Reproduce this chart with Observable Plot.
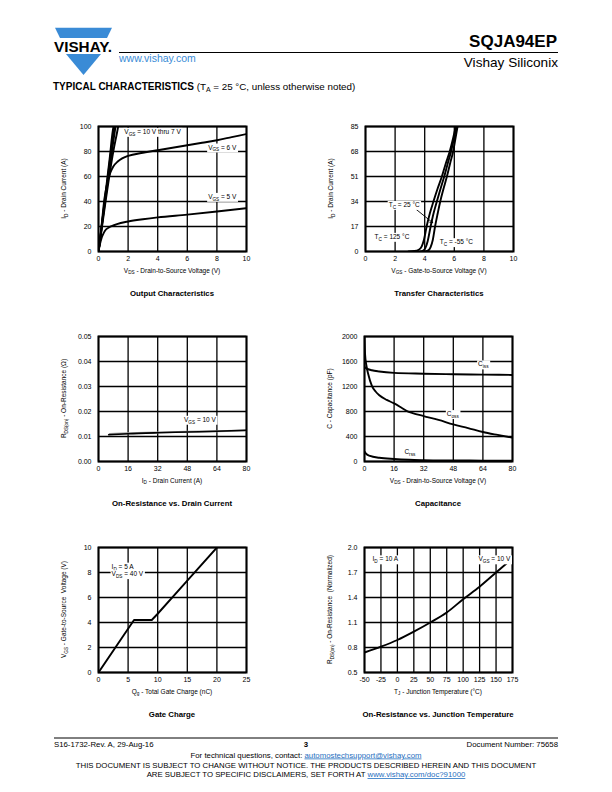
<!DOCTYPE html>
<html><head><meta charset="utf-8">
<script src="https://cdn.jsdelivr.net/npm/d3@7"></script>
<script src="https://cdn.jsdelivr.net/npm/@observablehq/plot@0.6"></script>
<style>
body{margin:0;background:#fff;}
#page{position:relative;width:612px;height:792px;overflow:hidden;font-family:"Liberation Sans",Arial,sans-serif;}
#page svg{position:absolute;}
</style></head><body><div id="page"></div>
<script>
// ---------- DATA ----------
// Output characteristics: ID (A) vs VDS (V)
const outVgs10 = [[0,0],[0.1,9],[0.25,24],[0.5,49],[0.75,74],[1.0,99],[1.02,100]];
const outVgs9  = [[0,0],[0.1,9],[0.25,23.5],[0.5,47],[0.75,71],[1.0,94],[1.07,100]];
const outVgs8  = [[0,0],[0.1,8.5],[0.25,22.5],[0.5,45],[0.75,67],[1.0,88],[1.15,100]];
const outVgs7  = [[0,0],[0.1,8],[0.25,21],[0.5,42],[0.75,62],[1.0,80],[1.25,95],[1.33,100]];
const outVgs6  = [[0,0],[0.2,20],[0.4,42],[0.6,55],[0.8,63],[1.0,68],[1.3,72],[1.6,74.5],[2,76.5],[3,79],[4,81],[5,83],[6,85],[7,87],[8,89],[9,91.5],[10,94]];
const outVgs5  = [[0,0],[0.1,6],[0.2,10.5],[0.3,13.5],[0.45,16.8],[0.7,19.2],[1,20.8],[1.5,22.8],[2,24],[3,25.8],[4,27.3],[6,29.5],[8,32],[10,34.7]];
const outXTicks = [0,2,4,6,8,10];
const outYTicks = [0,20,40,60,80,100];

// Transfer characteristics: ID (A) vs VGS (V)
const tr125 = [[2.9,0],[3.3,0.3],[3.6,1.2],[3.8,3.5],[3.95,8],[4.13,17],[4.35,26],[4.59,34],[4.88,43],[5.16,51],[5.43,60],[5.69,68],[5.92,77],[6.1,85]];
const tr25  = [[3.7,0],[3.9,0.6],[4.05,2.5],[4.2,7],[4.4,17],[4.6,26],[4.82,34],[5.08,43],[5.32,51],[5.56,60],[5.78,68],[5.98,77],[6.15,85]];
const trM55 = [[4.05,0],[4.25,0.8],[4.4,3],[4.55,8],[4.7,17],[4.88,26],[5.05,34],[5.28,43],[5.5,51],[5.72,60],[5.92,68],[6.08,77],[6.22,85]];
const trXTicks = [0,2,4,6,8,10];
const trYTicks = [0,17,34,51,68,85];
const trArrow = [{x1:3.44,y1:28.5,x2:4.54,y2:19.6}];

// On-resistance vs drain current: RDS(on) (ohm) vs ID (A)
const ronBlack = [[5.5,0.0107],[16,0.0111],[32,0.0115],[48,0.0118],[64,0.0121],[80,0.0125]];
const ronGray  = [[6,0.0110],[16,0.0113],[32,0.0116],[48,0.0119],[64,0.0121],[80,0.0124]];
const ronXTicks = [0,16,32,48,64,80];
const ronYTicks = [0,0.01,0.02,0.03,0.04,0.05];

// Capacitance: C (pF) vs VDS (V)
const cIss = [[0,1510],[1,1490],[4,1460],[8,1440],[16,1418],[32,1405],[48,1396],[64,1390],[80,1385]];
const cOss = [[0,2000],[0.3,1720],[1,1540],[2,1400],[4,1210],[6,1120],[8,1060],[12,985],[16,930],[20,860],[23,805],[26,775],[32,727],[40,665],[48,594],[56,535],[64,472],[72,425],[80,382]];
const cRss = [[0,160],[1,120],[3,90],[8,60],[16,40],[24,28],[32,22],[48,17],[64,14],[80,12]];
const capXTicks = [0,16,32,48,64,80];
const capYTicks = [0,400,800,1200,1600,2000];

// Gate charge: VGS (V) vs Qg (nC)
const gateCharge = [[0,0],[6,4.2],[9,4.2],[10,4.7],[15,7.35],[20,10]];
const gcXTicks = [0,5,10,15,20,25];
const gcYTicks = [0,2,4,6,8,10];

// On-resistance vs junction temperature (normalized)
const ronTemp = [[-50,0.74],[-25,0.81],[0,0.89],[25,0.99],[50,1.10],[75,1.22],[100,1.38],[125,1.53],[150,1.70],[175,1.87]];
const rtXTicks = [-50,-25,0,25,50,75,100,125,150,175];
const rtYTicks = [0.5,0.8,1.1,1.4,1.7,2.0];

// ---------- HELPERS ----------
const FONT = "Liberation Sans, Arial, sans-serif";
const page = document.getElementById("page");

function rich(svg, x, y, parts, o = {}) {
  const size = o.size || 6.5;
  const t = svg.append("text").attr("x", x).attr("y", y)
    .attr("font-size", size).attr("font-family", FONT)
    .attr("text-anchor", o.anchor || "start").attr("fill", o.fill || "#000");
  if (o.dy) t.attr("dy", o.dy);
  if (o.weight) t.attr("font-weight", o.weight);
  if (o.rotate) t.attr("transform", `rotate(-90 ${x} ${y})`);
  let shifted = 0;
  for (const p of parts) {
    const isSub = Array.isArray(p);
    const s = t.append("tspan").text(isSub ? p[0] : p);
    if (isSub) { s.attr("font-size", size * 0.72).attr("dy", size * 0.3 - shifted); shifted = size * 0.3; }
    else if (shifted) { s.attr("dy", -shifted); shifted = 0; }
  }
  if (o.bg) {
    const b = t.node().getBBox();
    svg.insert("rect", () => t.node())
      .attr("x", b.x - 1).attr("y", b.y).attr("width", b.width + 2).attr("height", b.height)
      .attr("fill", "#fff");
  }
  return t;
}

const line = (data, extra = {}) => Plot.line(data, {x: d => d[0], y: d => d[1], stroke: "#000", strokeWidth: 1.9, curve: "monotone-x", clip: true, ...extra});

function chart(cfg) {
  const mL = 40, mR = 14, mT = 8, mB = 52, W = 148, H = 125;
  const plot = Plot.plot({
    width: mL + W + mR, height: mT + H + mB,
    marginLeft: mL, marginRight: mR, marginTop: mT, marginBottom: mB,
    style: {fontFamily: FONT, fontSize: "7px", background: "transparent", color: "#000", overflow: "visible"},
    x: {domain: cfg.xDomain}, y: {domain: cfg.yDomain},
    marks: [
      Plot.gridX(cfg.xTicks, {stroke: "#000", strokeOpacity: 1, strokeWidth: 1.3}),
      Plot.gridY(cfg.yTicks, {stroke: "#000", strokeOpacity: 1, strokeWidth: 1.3}),
      Plot.axisX(cfg.xTicks, {tickSize: 0, tickPadding: 5, label: null, tickFormat: cfg.xFormat || (d => String(d)), fontSize: 7}),
      Plot.axisY(cfg.yTicks, {tickSize: 0, tickPadding: 7, label: null, tickFormat: cfg.yFormat || (d => String(d)), fontSize: 7}),
      ...cfg.marks,
      Plot.frame({stroke: "#000", strokeWidth: 2})
    ]
  });
  plot.style.left = (cfg.left - mL) + "px";
  plot.style.top = (cfg.top - mT) + "px";
  page.appendChild(plot);
  const svg = d3.select(plot);
  const sx = plot.scale("x"), sy = plot.scale("y");
  rich(svg, mL + W / 2, mT + H + 21.5, cfg.xLabel, {anchor: "middle", size: 6.5});
  rich(svg, mL - 32, mT + H / 2, cfg.yLabel, {anchor: "middle", size: 6.5, rotate: true});
  for (const a of cfg.notes || []) rich(svg, sx.apply(a.x), sy.apply(a.y), a.parts, {anchor: a.anchor || "start", bg: true, dy: "0.35em", size: 6.5});
  rich(svg, mL + W / 2, mT + H + 44.5, [cfg.title], {anchor: "middle", size: 7.8, weight: "bold"});
}

// ---------- PAGE FRAME (header / footer) ----------
const bgSvg = d3.select(page).append("svg").attr("width", 612).attr("height", 792).style("left", "0px").style("top", "0px");
const BLUE = "#3a8bd6";
bgSvg.append("polygon").attr("points", "55,27.7 112,27.7 107,38 60,38").attr("fill", BLUE);
bgSvg.append("polygon").attr("points", "66,54 101,54 83.5,75").attr("fill", BLUE);
bgSvg.append("text").attr("x", 54).attr("y", 52).attr("font-family", FONT).attr("font-weight", "bold").attr("font-size", 14)
  .attr("textLength", 58).attr("lengthAdjust", "spacingAndGlyphs").text("VISHAY.");
bgSvg.append("text").attr("x", 557).attr("y", 47).attr("text-anchor", "end").attr("font-family", FONT).attr("font-weight", "bold").attr("font-size", 17).text("SQJA94EP");
bgSvg.append("line").attr("x1", 119).attr("x2", 558).attr("y1", 52.5).attr("y2", 52.5).attr("stroke", "#000").attr("stroke-width", 1);
bgSvg.append("text").attr("x", 119).attr("y", 62).attr("font-family", FONT).attr("font-size", 10.5).attr("fill", BLUE).text("www.vishay.com");
bgSvg.append("text").attr("x", 558).attr("y", 67).attr("text-anchor", "end").attr("font-family", FONT).attr("font-size", 13.6).text("Vishay Siliconix");
{
  const t = bgSvg.append("text").attr("x", 53).attr("y", 90).attr("font-family", FONT).attr("font-size", 10);
  t.append("tspan").attr("font-weight", "bold").text("TYPICAL CHARACTERISTICS");
  t.append("tspan").attr("font-size", 9.8).text(" (T");
  t.append("tspan").attr("font-size", 7).attr("dy", 2.2).text("A");
  t.append("tspan").attr("font-size", 9.8).attr("dy", -2.2).text(" = 25 °C, unless otherwise noted)");
}
// footer
bgSvg.append("line").attr("x1", 54).attr("x2", 558).attr("y1", 738).attr("y2", 738).attr("stroke", "#000").attr("stroke-width", 1);
const ft = (x, y, anchor, txt, w) => bgSvg.append("text").attr("x", x).attr("y", y).attr("text-anchor", anchor).attr("font-family", FONT).attr("font-size", 7.8).attr("font-weight", w || "normal").text(txt);
ft(54, 747, "start", "S16-1732-Rev. A, 29-Aug-16");
ft(306, 747, "middle", "3", "bold");
ft(558, 747, "end", "Document Number: 75658");
{
  const t = ft(306, 757.5, "middle", "For technical questions, contact: ");
  t.append("tspan").attr("fill", "#1f6fc0").attr("text-decoration", "underline").text("automostechsupport@vishay.com");
}
ft(306, 768, "middle", "THIS DOCUMENT IS SUBJECT TO CHANGE WITHOUT NOTICE. THE PRODUCTS DESCRIBED HEREIN AND THIS DOCUMENT");
{
  const t = ft(306, 777, "middle", "ARE SUBJECT TO SPECIFIC DISCLAIMERS, SET FORTH AT ");
  t.append("tspan").attr("fill", "#1f6fc0").attr("text-decoration", "underline").text("www.vishay.com/doc?91000");
}

// ---------- CHARTS ----------
chart({
  left: 98, top: 126, xDomain: [0, 10], yDomain: [0, 100], xTicks: outXTicks, yTicks: outYTicks,
  marks: [line(outVgs10), line(outVgs9), line(outVgs8), line(outVgs7), line(outVgs6), line(outVgs5)],
  xLabel: ["V", ["DS"], " - Drain-to-Source Voltage (V)"],
  yLabel: ["I", ["D"], " - Drain Current (A)"],
  notes: [
    {x: 1.78, y: 95.5, parts: ["V", ["GS"], " = 10 V thru 7 V"]},
    {x: 9.35, y: 83, anchor: "end", parts: ["V", ["GS"], " = 6 V"]},
    {x: 9.35, y: 43.5, anchor: "end", parts: ["V", ["GS"], " = 5 V"]}
  ],
  title: "Output Characteristics"
});

chart({
  left: 365, top: 126, xDomain: [0, 10], yDomain: [0, 85], xTicks: trXTicks, yTicks: trYTicks,
  marks: [line(tr125), line(tr25), line(trM55),
    Plot.arrow(trArrow, {x1: "x1", y1: "y1", x2: "x2", y2: "y2", stroke: "#000", strokeWidth: 0.9, headLength: 5})],
  xLabel: ["V", ["GS"], " - Gate-to-Source Voltage (V)"],
  yLabel: ["I", ["D"], " - Drain Current (A)"],
  notes: [
    {x: 1.6, y: 31.5, parts: ["T", ["C"], " = 25 °C"]},
    {x: 0.65, y: 9.8, parts: ["T", ["C"], " = 125 °C"]},
    {x: 5.05, y: 6.2, parts: ["T", ["C"], " = -55 °C"]}
  ],
  title: "Transfer Characteristics"
});

chart({
  left: 98, top: 336, xDomain: [0, 80], yDomain: [0, 0.05], xTicks: ronXTicks, yTicks: ronYTicks,
  yFormat: d3.format(".2f"),
  marks: [line(ronGray, {stroke: "#9a9a9a", strokeWidth: 1.8}), line(ronBlack, {strokeWidth: 1.6})],
  xLabel: ["I", ["D"], " - Drain Current (A)"],
  yLabel: ["R", ["DS(on)"], " - On-Resistance (Ω)"],
  notes: [{x: 46.5, y: 0.0166, parts: ["V", ["GS"], " = 10 V"]}],
  title: "On-Resistance vs. Drain Current"
});

chart({
  left: 364, top: 336, xDomain: [0, 80], yDomain: [0, 2000], xTicks: capXTicks, yTicks: capYTicks,
  marks: [line(cIss), line(cOss), line(cRss)],
  xLabel: ["V", ["DS"], " - Drain-to-Source Voltage (V)"],
  yLabel: ["C - Capacitance (pF)"],
  notes: [
    {x: 64.5, y: 1550, anchor: "middle", parts: ["C", ["iss"]]},
    {x: 48, y: 755, anchor: "middle", parts: ["C", ["oss"]]},
    {x: 24.8, y: 150, anchor: "middle", parts: ["C", ["rss"]]}
  ],
  title: "Capacitance"
});

chart({
  left: 98, top: 547, xDomain: [0, 25], yDomain: [0, 10], xTicks: gcXTicks, yTicks: gcYTicks,
  marks: [line(gateCharge, {curve: "linear"})],
  xLabel: ["Q", ["g"], " - Total Gate Charge (nC)"],
  yLabel: ["V", ["GS"], " - Gate-to-Source  Voltage (V)"],
  notes: [
    {x: 2.3, y: 8.45, parts: ["I", ["D"], " = 5 A"]},
    {x: 2.3, y: 7.85, parts: ["V", ["DS"], " = 40 V"]}
  ],
  title: "Gate Charge"
});

chart({
  left: 364, top: 547, xDomain: [-50, 175], yDomain: [0.5, 2.0], xTicks: rtXTicks, yTicks: rtYTicks,
  yFormat: d3.format(".1f"),
  marks: [line(ronTemp)],
  xLabel: ["T", ["J"], " - Junction Temperature (°C)"],
  yLabel: ["R", ["DS(on)"], " - On-Resistance  (Normalized)"],
  notes: [
    {x: -37, y: 1.855, parts: ["I", ["D"], " = 10 A"]},
    {x: 124, y: 1.855, parts: ["V", ["GS"], " = 10 V"]}
  ],
  title: "On-Resistance vs. Junction Temperature"
});
</script>
</body></html>
